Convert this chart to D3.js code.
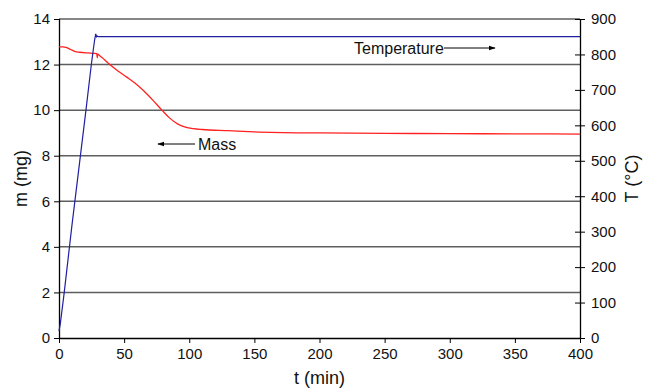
<!DOCTYPE html>
<html>
<head>
<meta charset="utf-8">
<script src="https://cdn.jsdelivr.net/npm/d3@7"></script>
<style>
body { margin: 0; background: #fff; }
text { font-family: "Liberation Sans", Arial, sans-serif; }
</style>
</head>
<body>
<div id="chart"></div>
<script>
var massColor = "#ff2020";
var tempColor = "#2020a0";

// temperature programme (min, °C)
var tempTime = [0, 1, 4, 10, 20.7, 24.8, 27.3, 28.2, 28.8, 29.3, 30, 400];
var tempVal = [20, 40, 128, 320, 643, 771, 840, 858, 850, 852, 850, 850];

// mass (min, mg)
var massTime = [0, 3, 6, 9, 12, 16, 22, 27, 29, 29.4, 29.8, 30.3, 35, 39, 45, 52, 58, 65, 72, 79, 85, 91, 97, 103, 110, 130, 150, 200, 250, 300, 350, 400];
var massVal = [12.78, 12.78, 12.74, 12.66, 12.58, 12.54, 12.51, 12.49, 12.48, 12.3, 12.47, 12.44, 12.21, 12.0, 11.73, 11.45, 11.2, 10.85, 10.44, 10.0, 9.65, 9.4, 9.26, 9.19, 9.15, 9.1, 9.05, 9.0, 8.98, 8.97, 8.96, 8.95];

var xTicks = [0, 50, 100, 150, 200, 250, 300, 350, 400];
var mTicks = [0, 2, 4, 6, 8, 10, 12, 14];
var tTicks = [0, 100, 200, 300, 400, 500, 600, 700, 800, 900];

var width = 646, height = 388;
var pLeft = 59, pRight = 580, pTop = 19, pBottom = 338;

var x = d3.scaleLinear().domain([0, 400]).range([pLeft, pRight]);
var yM = d3.scaleLinear().domain([0, 14]).range([pBottom, pTop]);
var yT = d3.scaleLinear().domain([0, 900]).range([pBottom, pTop]);

var svg = d3.select("#chart").append("svg")
    .attr("width", width)
    .attr("height", height);

// grid lines
svg.append("g")
    .selectAll("line")
    .data(mTicks.filter(function(d){ return d > 0; }))
    .join("line")
    .attr("x1", pLeft)
    .attr("x2", pRight)
    .attr("y1", function(d){ return yM(d); })
    .attr("y2", function(d){ return yM(d); })
    .attr("stroke", "#5e5e5e")
    .attr("stroke-width", 1.5);

// axes
var xAxis = svg.append("g")
    .attr("transform", "translate(0," + pBottom + ")")
    .call(d3.axisBottom(x).tickValues(xTicks).tickSize(5).tickPadding(5));

var mAxis = svg.append("g")
    .attr("transform", "translate(" + pLeft + ",0)")
    .call(d3.axisLeft(yM).tickValues(mTicks).tickSize(5).tickPadding(4));

var tAxis = svg.append("g")
    .attr("transform", "translate(" + pRight + ",0)")
    .call(d3.axisRight(yT).tickValues(tTicks).tickSize(5).tickPadding(6));

// right ticks cross the axis
tAxis.selectAll(".tick line").attr("x1", -5);

[xAxis, mAxis, tAxis].forEach(function(a){
    a.select(".domain").attr("stroke", "#000").attr("stroke-width", 1.3);
    a.selectAll(".tick line").attr("stroke", "#000");
    a.selectAll(".tick text")
        .attr("fill", "#111")
        .attr("font-size", "15px")
        .attr("font-family", "Liberation Sans, Arial, sans-serif");
});
xAxis.select(".domain").attr("d", "M" + pLeft + ",0.5H" + pRight);
mAxis.select(".domain").attr("d", "M0.5," + pBottom + "V" + pTop);
tAxis.select(".domain").attr("d", "M0.5," + pBottom + "V" + pTop);

// lines
var tempLine = d3.line()
    .x(function(d){ return x(d[0]); })
    .y(function(d){ return yT(d[1]); });

var massLine = d3.line()
    .curve(d3.curveMonotoneX)
    .x(function(d){ return x(d[0]); })
    .y(function(d){ return yM(d[1]); });

svg.append("path")
    .datum(d3.zip(massTime, massVal))
    .attr("d", massLine)
    .attr("fill", "none")
    .attr("stroke", massColor)
    .attr("stroke-width", 1.3);

svg.append("path")
    .datum(d3.zip(tempTime, tempVal))
    .attr("d", tempLine)
    .attr("fill", "none")
    .attr("stroke", tempColor)
    .attr("stroke-width", 1.2);

// annotations with arrows
var defs = svg.append("defs");
defs.append("marker")
    .attr("id", "arrow")
    .attr("viewBox", "0 0 10 10")
    .attr("refX", 9)
    .attr("refY", 5)
    .attr("markerWidth", 7)
    .attr("markerHeight", 7)
    .attr("orient", "auto")
    .append("path")
    .attr("d", "M0,1.5L10,5L0,8.5Z")
    .attr("fill", "#000");

svg.append("text")
    .attr("x", 354)
    .attr("y", 54)
    .attr("font-size", "16px")
    .attr("fill", "#111")
    .text("Temperature");

svg.append("line")
    .attr("x1", 444).attr("y1", 48)
    .attr("x2", 495).attr("y2", 48)
    .attr("stroke", "#000")
    .attr("stroke-width", 1)
    .attr("marker-end", "url(#arrow)");

svg.append("text")
    .attr("x", 198)
    .attr("y", 150)
    .attr("font-size", "16px")
    .attr("fill", "#111")
    .text("Mass");

svg.append("line")
    .attr("x1", 195).attr("y1", 144)
    .attr("x2", 158).attr("y2", 144)
    .attr("stroke", "#000")
    .attr("stroke-width", 1)
    .attr("marker-end", "url(#arrow)");

// axis titles
svg.append("text")
    .attr("transform", "translate(27," + (pTop + pBottom) / 2 + ") rotate(-90)")
    .attr("text-anchor", "middle")
    .attr("font-size", "18px")
    .attr("fill", "#111")
    .text("m (mg)");

svg.append("text")
    .attr("transform", "translate(638," + (pTop + pBottom) / 2 + ") rotate(-90)")
    .attr("text-anchor", "middle")
    .attr("font-size", "18px")
    .attr("fill", "#111")
    .text("T (°C)");

svg.append("text")
    .attr("x", (pLeft + pRight) / 2)
    .attr("y", 384)
    .attr("text-anchor", "middle")
    .attr("font-size", "18px")
    .attr("fill", "#111")
    .text("t (min)");
</script>
</body>
</html>
